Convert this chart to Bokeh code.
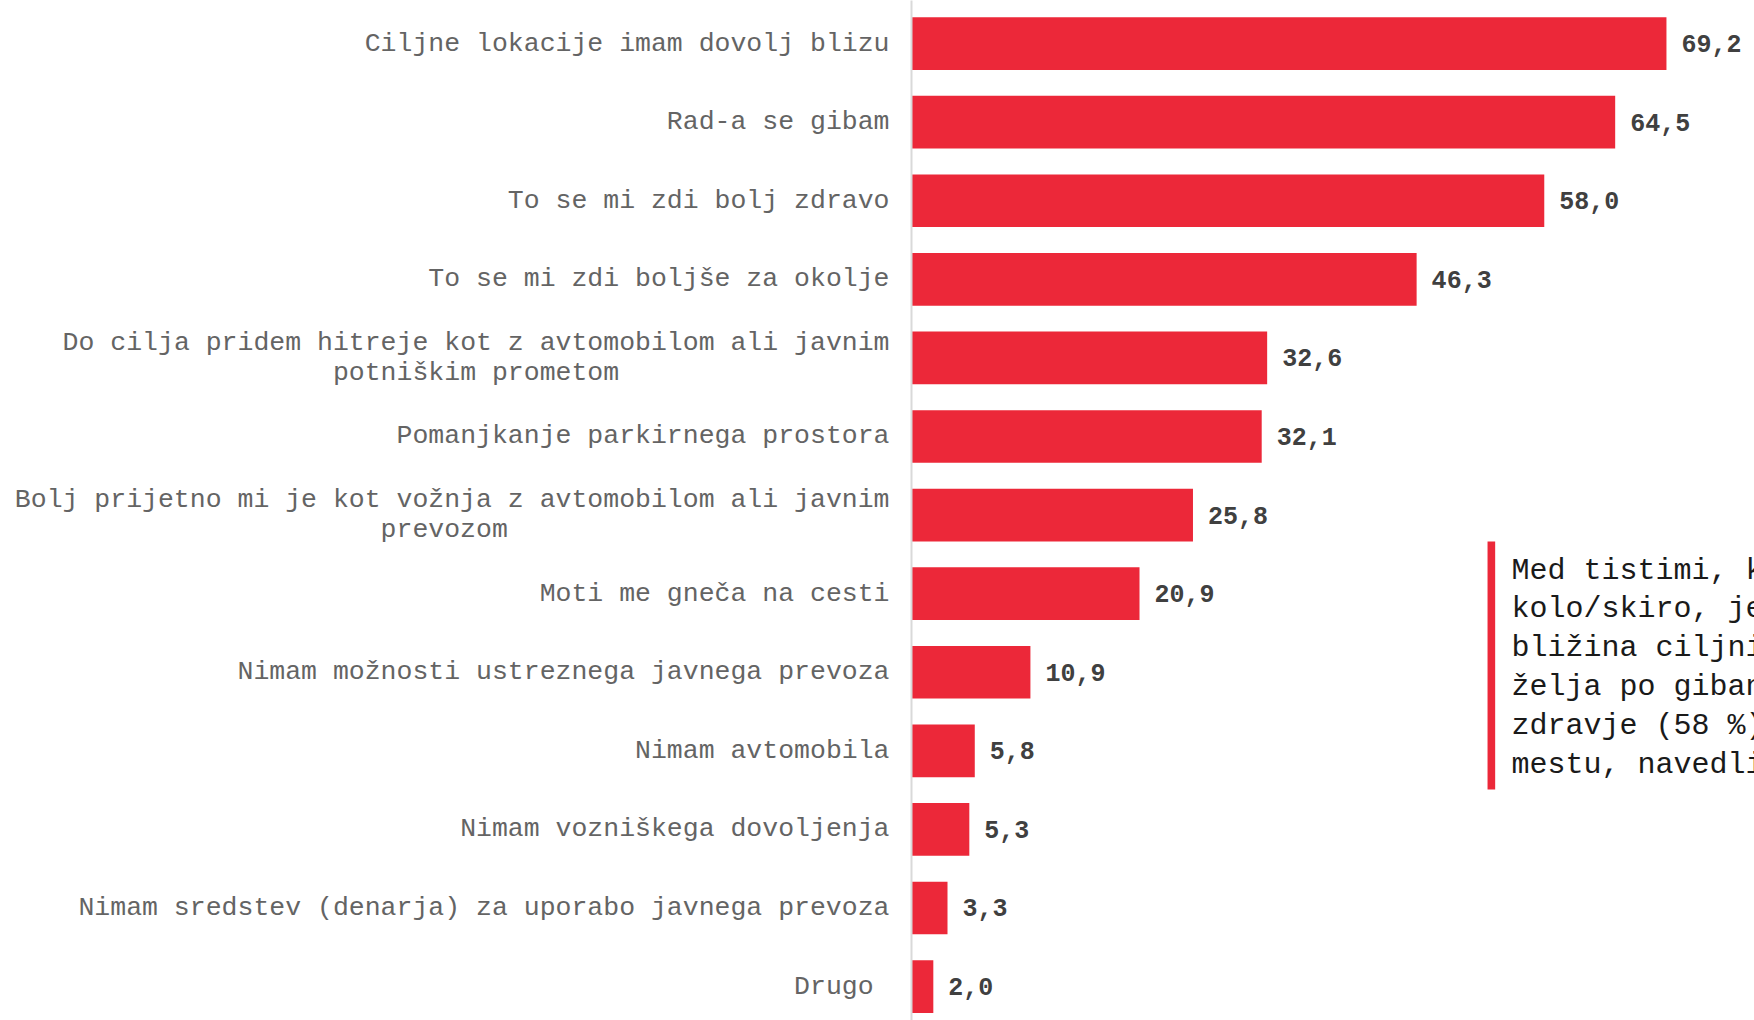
from bokeh.plotting import figure
from bokeh.models import Range1d, FixedTicker, Label, BoxAnnotation, ColumnDataSource
from bokeh.core.properties import value
from bokeh.embed import file_html
from bokeh.resources import INLINE

categories = [
    "Ciljne lokacije imam dovolj blizu",
    "Rad-a se gibam",
    "To se mi zdi bolj zdravo",
    "To se mi zdi boljše za okolje",
    "Do cilja pridem hitreje kot z avtomobilom ali javnim\npotniškim prometom" + " " * 17,
    "Pomanjkanje parkirnega prostora",
    "Bolj prijetno mi je kot vožnja z avtomobilom ali javnim\nprevozom" + " " * 24,
    "Moti me gneča na cesti",
    "Nimam možnosti ustreznega javnega prevoza",
    "Nimam avtomobila",
    "Nimam vozniškega dovoljenja",
    "Nimam sredstev (denarja) za uporabo javnega prevoza",
    "Drugo ",
]
values = [69.2, 64.5, 58.0, 46.3, 32.6, 32.1, 25.8, 20.9, 10.9, 5.8, 5.3, 3.3, 2.0]
value_labels = [f"{v:.1f}".replace(".", ",") for v in values]

note_lines = [
    "Med tistimi, ki za pot uporabljajo",
    "kolo/skiro, je glavni razlog",
    "bližina ciljnih lokacij (69 %),",
    "želja po gibanju (65 %) in skrb za",
    "zdravje (58 %). Na četrtem",
    "mestu, navedli so okolje.",
]

RED = "#EC2839"
MONO = "Liberation Mono"

pos = list(range(len(categories)))
src = ColumnDataSource(dict(y=pos, v=values, lab=value_labels))

p = figure(
    width=1754, height=1020,
    x_range=Range1d(0, 77.27), y_range=Range1d(12.432, -0.5485),
    x_axis_location=None,
    output_backend="svg", toolbar_location=None,
    min_border_left=911, min_border_right=0, min_border_top=0, min_border_bottom=0,
)
p.outline_line_color = None
p.xgrid.visible = False
p.ygrid.visible = False

p.hbar(y="y", right="v", left=0, height=0.67, source=src, color=RED, line_color=None)
p.text(x="v", y="y", text="lab", source=src, x_offset=15,
       text_font=value(MONO), text_font_style="bold", text_font_size="25px",
       text_color="#404040", text_align="left", text_baseline="middle")

ax = p.yaxis[0]
ax.ticker = FixedTicker(ticks=pos)
ax.major_label_overrides = {i: c for i, c in zip(pos, categories)}
ax.major_label_text_font = MONO
ax.major_label_text_font_size = "26.5px"
ax.major_label_text_color = "#646464"
ax.major_label_text_line_height = 1.0
ax.major_label_standoff = 16
ax.major_tick_line_color = None
ax.minor_tick_line_color = None
ax.axis_line_color = "#d9d9d9"
ax.axis_line_width = 2

p.add_layout(BoxAnnotation(left=52.8, right=53.5, top=6.336, bottom=9.492,
                           fill_color=RED, fill_alpha=1.0, line_color=None))
p.add_layout(Label(x=55.0, y=6.489, text="\n".join(note_lines),
                   text_font=MONO, text_font_size="30px", text_color="#1a1a1a",
                   text_align="left", text_baseline="top", text_line_height=1.147))

open("out.html", "w").write(file_html(p, INLINE))
